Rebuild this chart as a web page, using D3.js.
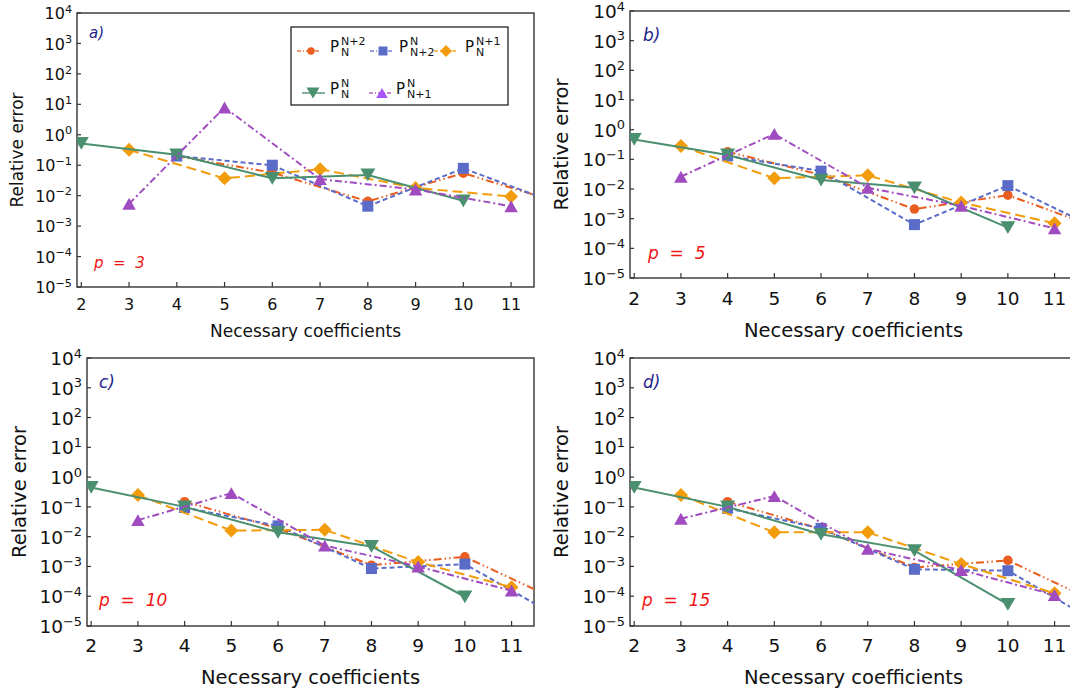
<!DOCTYPE html>
<html>
<head>
<meta charset="utf-8">
<script src="https://cdn.jsdelivr.net/npm/d3@7"></script>
<style>
  body { margin: 0; background: #fff; }
  svg { display: block; font-family: "DejaVu Sans", sans-serif; }
</style>
</head>
<body>
<svg id="chart" width="1070" height="695"></svg>
<script>
// x positions of each series
const xEven = [2, 4, 6, 8, 10];
const xOdd = [3, 5, 7, 9, 11];
const xShift = [4, 6, 8, 10, 12];
const xTicks = [2, 3, 4, 5, 6, 7, 8, 9, 10, 11];
const yTickExp = [4, 3, 2, 1, 0, -1, -2, -3, -4, -5];

// panel a) p = 3
const a_red = [0.2, 0.057, 0.0065, 0.055, 0.006];
const a_blue = [0.2, 0.1, 0.0045, 0.079, 0.0053];
const a_orange = [0.32, 0.037, 0.074, 0.018, 0.0094];
const a_green = [0.52, 0.22, 0.037, 0.048, 0.0068];
const a_purple = [0.0054, 7.9, 0.035, 0.016, 0.0045];

// panel b) p = 5
const b_red = [0.18, 0.03, 0.0021, 0.0062, 0.00045];
const b_blue = [0.13, 0.04, 0.00063, 0.013, 0.0004];
const b_orange = [0.28, 0.023, 0.029, 0.0035, 0.0007];
const b_green = [0.47, 0.14, 0.02, 0.011, 0.0005];
const b_purple = [0.026, 0.72, 0.011, 0.0027, 0.00047];

// panel c) p = 10
const c_red = [0.15, 0.019, 0.0011, 0.0021, 0.000072];
const c_blue = [0.095, 0.023, 0.00085, 0.0012, 0.00002];
const c_orange = [0.25, 0.016, 0.017, 0.0014, 0.0002];
const c_green = [0.45, 0.1, 0.014, 0.0047, 0.000096];
const c_purple = [0.036, 0.29, 0.005, 0.001, 0.000155];

// panel d) p = 15
const d_red = [0.15, 0.018, 0.00093, 0.0016, 0.000053];
const d_blue = [0.09, 0.019, 0.0008, 0.00072, 0.000011];
const d_orange = [0.25, 0.014, 0.014, 0.0012, 0.000125];
const d_green = [0.45, 0.1, 0.012, 0.0034, 0.000053];
const d_purple = [0.04, 0.23, 0.0039, 0.00076, 0.00011];

const panelLabels = ["a)", "b)", "c)", "d)"];
const pLabels = ["p = 3", "p = 5", "p = 10", "p = 15"];

// series styles (draw order = legend order)
const styles = [
  { key: "red", x: xShift, color: "#e95e1f", dash: "8,3,1.5,3,1.5,3", shape: "circle", size: 9.5, sup: "N+2", sub: "N" },
  { key: "blue", x: xShift, color: "#5a6cc8", dash: "5,3", shape: "square", size: 11, sup: "N", sub: "N+2" },
  { key: "orange", x: xOdd, color: "#f39c0b", dash: "10,5", shape: "diamond", size: 14, sup: "N+1", sub: "N" },
  { key: "green", x: xEven, color: "#4a8f6f", dash: null, shape: "tdown", size: 15, sup: "N", sub: "N" },
  { key: "purple", x: xOdd, color: "#a04cc0", dash: "7,3,2,3", shape: "tup", size: 13.5, sup: "N", sub: "N+1" }
];

const panelData = [
  { red: a_red, blue: a_blue, orange: a_orange, green: a_green, purple: a_purple },
  { red: b_red, blue: b_blue, orange: b_orange, green: b_green, purple: b_purple },
  { red: c_red, blue: c_blue, orange: c_orange, green: c_green, purple: c_purple },
  { red: d_red, blue: d_blue, orange: d_orange, green: d_green, purple: d_purple }
];

// layout of the four panels
const layout = [
  { left: 77, top: 13, width: 457, height: 274, tickFs: 16, labFs: 17, xTickDy: 23, xLabY: 337, yLabX: 23, legend: true },
  { left: 630, top: 11, width: 447, height: 267, tickFs: 18.5, labFs: 19.5, xTickDy: 27, xLabY: 337, yLabX: 568, legend: false },
  { left: 87, top: 358, width: 447, height: 268, tickFs: 18.5, labFs: 19.5, xTickDy: 26, xLabY: 684, yLabX: 26, legend: false },
  { left: 630, top: 358, width: 447, height: 268, tickFs: 18.5, labFs: 19.5, xTickDy: 26, xLabY: 684, yLabX: 568, legend: false }
];

function markerPath(shape, s) {
  const h = s / 2;
  if (shape === "circle") return d3.symbol(d3.symbolCircle, Math.PI * h * h)();
  if (shape === "square") return `M${-h},${-h}H${h}V${h}H${-h}Z`;
  if (shape === "diamond") return `M0,${-h}L${h},0L0,${h}L${-h},0Z`;
  if (shape === "tdown") return `M${-h},${-h * 0.85}L${h},${-h * 0.85}L0,${h * 0.85}Z`;
  return `M${-h},${h * 0.88}L${h},${h * 0.88}L0,${-h * 0.88}Z`;
}

const svg = d3.select("#chart");

layout.forEach(function (L, i) {
  const data = panelData[i];
  const x = d3.scaleLinear().domain([1.91, 11.48]).range([0, L.width]);
  const y = d3.scaleLog().domain([1e-5, 1e4]).range([L.height, 0]);

  const g = svg.append("g").attr("transform", "translate(" + L.left + "," + L.top + ")");

  svg.append("clipPath").attr("id", "clip" + i)
    .append("rect").attr("x", L.left).attr("y", L.top).attr("width", L.width).attr("height", L.height);

  // frame
  g.append("rect").attr("width", L.width).attr("height", L.height)
    .attr("fill", "none").attr("stroke", "#333").attr("stroke-width", 1.4);

  // ticks (inward)
  g.selectAll(".yt").data(yTickExp).enter().append("line")
    .attr("x1", 0).attr("x2", 4)
    .attr("y1", d => y(Math.pow(10, d))).attr("y2", d => y(Math.pow(10, d)))
    .attr("stroke", "#333").attr("stroke-width", 1.2);
  g.selectAll(".xt").data(xTicks).enter().append("line")
    .attr("x1", d => x(d)).attr("x2", d => x(d))
    .attr("y1", L.height).attr("y2", L.height - 5)
    .attr("stroke", "#333").attr("stroke-width", 1.2);

  // y tick labels 10^n
  const supFs = L.tickFs * 0.7;
  const yl = g.selectAll(".yl").data(yTickExp).enter().append("text")
    .attr("x", -5)
    .attr("y", d => y(Math.pow(10, d)) + L.tickFs * 0.38)
    .attr("text-anchor", "end")
    .attr("font-size", L.tickFs)
    .attr("fill", "#111");
  yl.append("tspan").text("10");
  yl.append("tspan").attr("dy", -L.tickFs * 0.4).attr("font-size", supFs)
    .text(d => String(d).replace("-", "\u2212"));

  // x tick labels
  g.selectAll(".xl").data(xTicks).enter().append("text")
    .attr("x", d => x(d)).attr("y", L.height + L.xTickDy)
    .attr("text-anchor", "middle").attr("font-size", L.tickFs).attr("fill", "#111")
    .text(d => d);

  // axis titles
  svg.append("text")
    .attr("x", L.left + L.width / 2).attr("y", L.xLabY)
    .attr("text-anchor", "middle").attr("font-size", L.labFs).attr("fill", "#111")
    .text("Necessary coefficients");
  svg.append("text")
    .attr("transform", "translate(" + L.yLabX + "," + (L.top + L.height / 2) + ") rotate(-90)")
    .attr("text-anchor", "middle").attr("font-size", L.labFs).attr("fill", "#111")
    .text("Relative error");

  // series
  const plot = svg.append("g").attr("clip-path", "url(#clip" + i + ")")
    .append("g").attr("transform", "translate(" + L.left + "," + L.top + ")");
  const line = d3.line().x(d => x(d[0])).y(d => y(d[1]));
  styles.forEach(function (s) {
    const pts = s.x.map((xv, k) => [xv, data[s.key][k]]);
    plot.append("path").datum(pts)
      .attr("d", line).attr("fill", "none")
      .attr("stroke", s.color).attr("stroke-width", 2)
      .attr("stroke-dasharray", s.dash);
    plot.selectAll(".m-" + s.key).data(pts).enter().append("path")
      .attr("transform", d => "translate(" + x(d[0]) + "," + y(d[1]) + ")")
      .attr("d", markerPath(s.shape, s.size))
      .attr("fill", s.color);
  });

  // panel letter and p label
  g.append("text").attr("x", i === 0 ? 12 : (i === 2 ? 12 : 13)).attr("y", i === 0 ? 25 : 30)
    .attr("font-size", i === 0 ? 15 : 17).attr("font-style", "italic").attr("fill", "#1f1f8a")
    .text(panelLabels[i]);
  g.append("text").attr("x", i === 0 ? 17 : (i === 1 ? 18 : 12)).attr("y", L.height - (i < 2 ? 19 : 20))
    .attr("font-size", i === 0 ? 15 : 17).attr("font-style", "italic").attr("fill", "#f21515")
    .attr("xml:space", "preserve")
    .text(pLabels[i].replace(/ /g, "  "));

  if (L.legend) drawLegend();
});

function drawLegend() {
  const lg = svg.append("g");
  lg.append("rect").attr("x", 291).attr("y", 27).attr("width", 217).attr("height", 78)
    .attr("fill", "#fff").attr("stroke", "#111").attr("stroke-width", 1.2);
  const pos = [
    { lx: 297, mx: 311, tx: 330, y: 51 },
    { lx: 370, mx: 383, tx: 399, y: 51 },
    { lx: 434, mx: 446, tx: 465, y: 51 },
    { lx: 302, mx: 313, tx: 330, y: 93 },
    { lx: 369, mx: 382, tx: 396, y: 93 }
  ];
  styles.forEach(function (s, k) {
    const p = pos[k];
    lg.append("line").attr("x1", p.lx).attr("x2", p.lx + 23).attr("y1", p.y).attr("y2", p.y)
      .attr("stroke", s.color).attr("stroke-width", 1.6).attr("stroke-dasharray", s.dash ? "4,2,1,2" : null)
      .attr("opacity", 0.85);
    lg.append("path").attr("transform", "translate(" + p.mx + "," + p.y + ")")
      .attr("d", markerPath(s.shape, s.size - 2)).attr("fill", k === 4 ? "#a855f7" : s.color);
    lg.append("text").attr("x", p.tx).attr("y", p.y + 1).attr("font-size", 15).attr("fill", "#111").text("P");
    lg.append("text").attr("x", p.tx + 11).attr("y", p.y - 6).attr("font-size", 11).attr("fill", "#111").text(s.sup);
    lg.append("text").attr("x", p.tx + 11).attr("y", p.y + 5).attr("font-size", 11).attr("fill", "#111").text(s.sub);
  });
}
</script>
</body>
</html>
